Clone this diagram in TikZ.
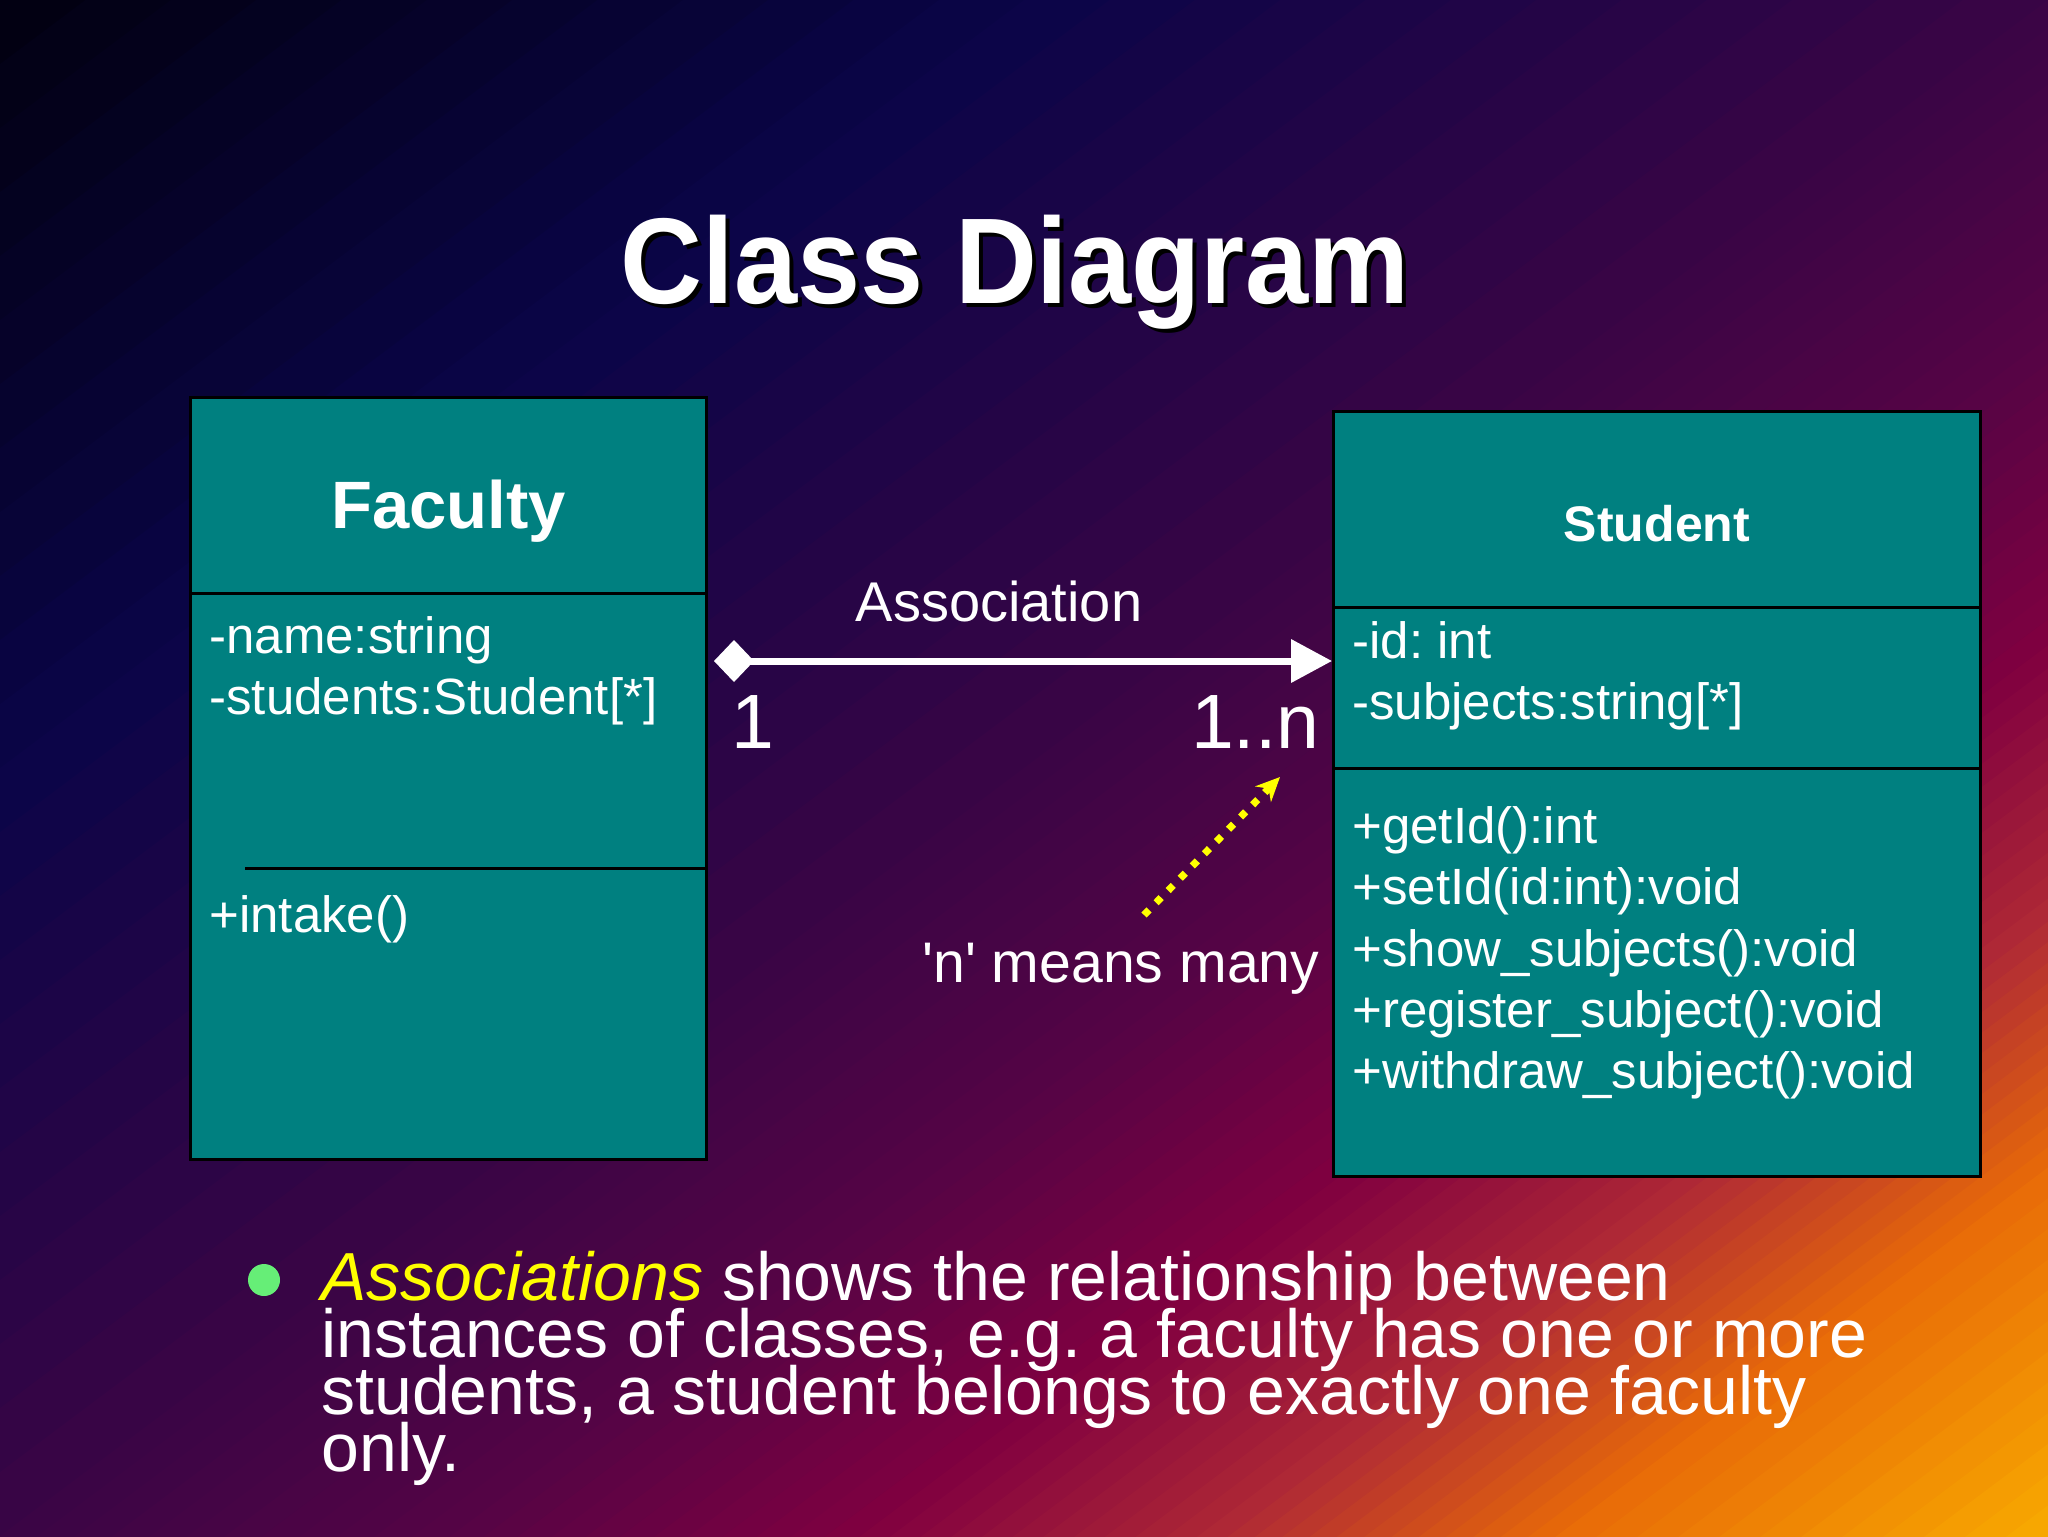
\documentclass[tikz,border=0pt]{standalone}
\usepackage{fontspec}
\setmainfont{Liberation Sans}
\newfontfamily\titlefont[FakeStretch=0.93]{Liberation Sans}
\usetikzlibrary{arrows.meta}
\lineskiplimit=-100pt
\frenchspacing

\definecolor{bgA}{HTML}{020010}
\definecolor{bgB}{HTML}{0A0548}
\definecolor{bgC}{HTML}{3A0545}
\definecolor{bgD}{HTML}{550445}
\definecolor{bgE}{HTML}{800040}
\definecolor{bgF}{HTML}{B02A35}
\definecolor{bgG}{HTML}{E86A08}
\definecolor{bgH}{HTML}{F8AA00}
\definecolor{classteal}{HTML}{008080}
\definecolor{bulletgreen}{HTML}{66EE77}
\definecolor{hiyellow}{HTML}{FFFF00}

\begin{document}
\begin{tikzpicture}[x=0.5pt, y=-0.5pt]
    % --- 样式设置 ---
    \tikzstyle{classbox}=[draw=black, line width=1.5pt, fill=classteal, inner sep=0pt, anchor=north west]
    \tikzstyle{divider}=[line width=1.5pt, black]
    \tikzstyle{classname}=[white, inner sep=0pt, anchor=base]
    \tikzstyle{member}=[white, align=left, inner sep=0pt, anchor=north west, font=\fontsize{25.5}{30.7}\selectfont]
    \tikzstyle{plain}=[white, inner sep=0pt, font=\fontsize{28}{34}\selectfont]
    \tikzstyle{mult}=[white, inner sep=0pt, font=\fontsize{38.5}{44}\selectfont]
    \tikzstyle{titletext}=[inner sep=0pt, anchor=base, font=\titlefont\bfseries\fontsize{61}{70}\selectfont]
    \tikzstyle{assoc}=[white, line width=3.5pt, {Diamond[length=20pt,width=21pt]}-{Triangle[length=20.5pt,width=21pt]}]
    \tikzstyle{pointer}=[-{Stealth[length=12pt,width=11pt]}, line width=3.6pt, hiyellow, dash pattern=on 3.6pt off 5pt]

    \useasboundingbox (0,0) rectangle (2048,1536);

    % 1. 背景渐变 (沿对角方向分段填充)
    \begin{scope}
      \clip (0,0) rectangle (2048,1536);
      \foreach \cfrom/\cto/\ta/\tb in {bgA/bgB/0/0.25, bgB/bgC/0.25/0.5, bgC/bgD/0.5/0.61, bgD/bgE/0.61/0.71, bgE/bgF/0.71/0.8, bgF/bgG/0.8/0.88, bgG/bgH/0.88/1}{
        \foreach \i in {0,...,11}{
          \pgfmathsetmacro\sfrom{(\ta+(\tb-\ta)*\i/12)*2457.6}
          \pgfmathsetmacro\sto{(\ta+(\tb-\ta)*(\i+1.3)/12)*2457.6}
          \pgfmathtruncatemacro\pc{(\i+0.5)*100/12}
          \colorlet{stripcol}{\cto!\pc!\cfrom}
          \fill[stripcol] ({0.6*\sfrom+2400},{0.8*\sfrom-1800}) -- ({0.6*\sfrom-2400},{0.8*\sfrom+1800})
            -- ({0.6*\sto-2400},{0.8*\sto+1800}) -- ({0.6*\sto+2400},{0.8*\sto-1800}) -- cycle;
        }
      }
    \end{scope}

    % 2. 标题 (带阴影)
    \node[titletext, black] (titleshadow) at (1019,307) {Class Diagram};
    \node[titletext, white] (title) at (1015,303) {Class Diagram};

    % 3. 类 Faculty
    \node[classbox, minimum width=258pt, minimum height=381pt] (faculty) at (189,396) {};
    \draw[divider] (faculty.west |- 0,593) -- (faculty.east |- 0,593);
    \draw[divider] (245,868) -- (faculty.east |- 0,868);
    \node[classname, font=\bfseries\fontsize{33.5}{40}\selectfont] (facultyname) at (faculty.north |- 0,528) {Faculty};
    \node[member] (facultyattr) at (209,616) {-name:string\\-students:Student[*]};
    \node[member] (facultyop) at (209,895) {+intake()};

    % 4. 类 Student
    \node[classbox, minimum width=323.5pt, minimum height=382.5pt] (student) at (1332,410) {};
    \draw[divider] (student.west |- 0,607) -- (student.east |- 0,607);
    \draw[divider] (student.west |- 0,768) -- (student.east |- 0,768);
    \node[classname, font=\bfseries\fontsize{25}{30}\selectfont] (studentname) at (student.north |- 0,541) {Student};
    \node[member] (studentattr) at (1352,621) {-id: int\\-subjects:string[*]};
    \node[member] (studentop) at (1352,806) {+getId():int\\+setId(id:int):void\\+show\_subjects():void\\+register\_subject():void\\+withdraw\_subject():void};

    % 5. 关联线及多重性
    \draw[assoc, shorten <=3pt] (faculty.east |- 0,661) -- (student.west |- 0,661);
    \node[plain, anchor=base] (assoclabel) at (999,621) {Association};
    \node[mult, anchor=base west] (multone) at (731,748) {1};
    \node[mult, anchor=base east] (multmany) at (1320,748) {1..n};

    % 6. 说明 'n'
    \node[plain, anchor=base west, font=\fontsize{28.6}{34}\selectfont] (nlabel) at (922,982) {\textquotesingle n\textquotesingle{} means many};
    \coordinate (ntail) at (1144,915);
    \coordinate (ntip) at (1280,777);
    \draw[pointer] (ntail) -- (ntip);

    % 7. 要点文字
    \node[circle, fill=bulletgreen, minimum size=16pt, inner sep=0pt] (bullet) at (264,1280) {};
    \node[plain, anchor=north west, align=left, font=\fontsize{34}{28.5}\selectfont] (bullettext) at (321,1251)
      {{\color{hiyellow}\itshape Associations} shows the relationship between\\
       instances of classes, e.g. a faculty has one or more\\
       students, a student belongs to exactly one faculty\\
       only.};
\end{tikzpicture}
\end{document}
